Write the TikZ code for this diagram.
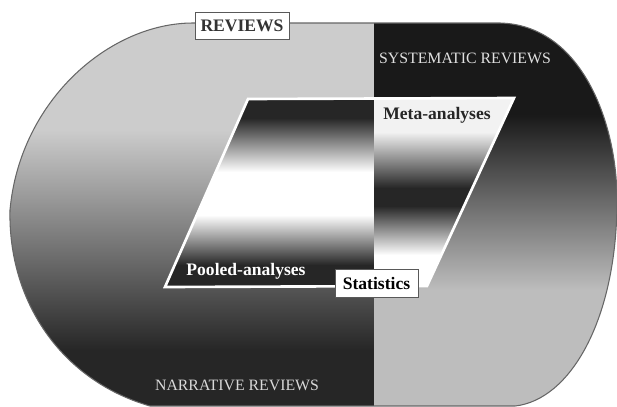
\documentclass[tikz,border=0pt]{standalone}
\usepackage{fontspec}
\setmainfont{Liberation Serif}
\begin{document}
\begin{tikzpicture}[x=.02cm,y=-.02cm,
    caps/.style={font=\fontsize{9}{10}\selectfont},
    bold/.style={font=\bfseries\fontsize{10}{12}\selectfont},
    tag/.style={bold,draw=black!65,fill=white,inner sep=0pt}]
    \useasboundingbox (0,0) rectangle (617,406);
    \def\blob{(193,23) -- (500,23)
        .. controls (580,25) and (617,120) .. (617,200)
        .. controls (617,320) and (570,400) .. (515,406) -- (150,406)
        .. controls (60,380) and (8,300) .. (10,210)
        .. controls (20,100) and (110,23) .. (193,23) -- cycle}
    \begin{scope}
        \clip \blob;
        \fill[black!20] (0,0) rectangle (374,130); % <<< narrative half
        \shade[top color=black!20,bottom color=black!85] (0,130) rectangle (374,350);
        \fill[black!85] (0,350) rectangle (374,406);
        \fill[black!90] (374,0) rectangle (617,115); % <<< systematic half
        \shade[top color=black!90,bottom color=black!26] (374,115) rectangle (617,290);
        \fill[black!26] (374,290) rectangle (617,406);
    \end{scope}
    \draw[black!60,line width=.6pt] \blob;
    \coordinate (p1) at (248,99);
    \coordinate (p2) at (514,98);
    \coordinate (p3) at (427,286);
    \coordinate (p4) at (165,287);
    \begin{scope}
        \clip (p1)--(p2)--(p3)--(p4)--cycle;
        \fill[black!85] (160,95) rectangle (374,118); % <<< pooled part
        \shade[top color=black!85,bottom color=white] (160,118) rectangle (374,172);
        \fill[white] (160,172) rectangle (374,215);
        \shade[top color=white,bottom color=black!85] (160,215) rectangle (374,265);
        \fill[black!85] (160,265) rectangle (374,290);
        \fill[black!5] (374,95) rectangle (520,132); % <<< meta part
        \shade[top color=black!5,bottom color=black!85] (374,132) rectangle (520,188);
        \fill[black!85] (374,188) rectangle (520,206);
        \shade[top color=black!85,bottom color=white] (374,206) rectangle (520,255);
        \fill[white] (374,255) rectangle (520,290);
    \end{scope}
    \draw[white,line width=1.5pt] (p1)--(p2)--(p3)--(p4)--cycle;
    \node[tag,text=black!80,minimum width=1.88cm,minimum height=.54cm] (rev) at (242,25.5) {REVIEWS};
    \node[caps,text=black!12] (sys) at (465,58) {SYSTEMATIC REVIEWS};
    \node[caps,text=black!15] (nar) at (237,385) {NARRATIVE REVIEWS};
    \node[bold,text=black!85] (meta) at (437,115) {Meta-analyses};
    \node[bold,text=white] (pool) at (246,271) {Pooled-analyses};
    \node[tag,minimum width=1.66cm,minimum height=.56cm] (stat) at (376.5,283) {Statistics};
\end{tikzpicture}
\end{document}
